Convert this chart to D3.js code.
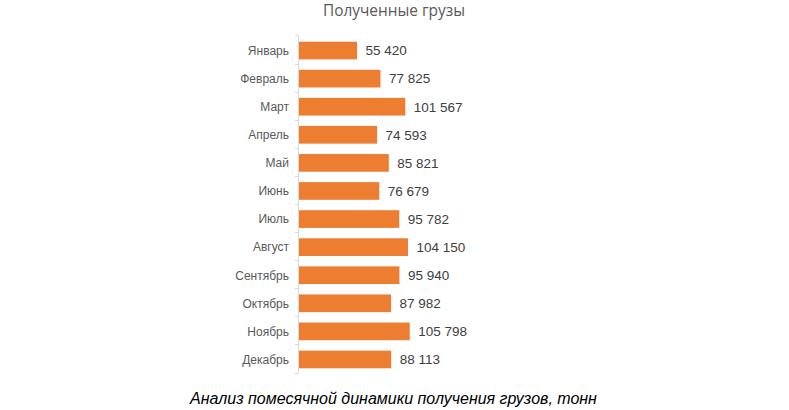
<!DOCTYPE html>
<html>
<head>
<meta charset="utf-8">
<script src="https://cdn.jsdelivr.net/npm/d3@7"></script>
<style>
  html, body { margin: 0; padding: 0; background: #fff; }
  svg { display: block; }
</style>
</head>
<body>
<svg id="chart" width="789" height="410"></svg>
<script>
const months = ["Январь","Февраль","Март","Апрель","Май","Июнь","Июль","Август","Сентябрь","Октябрь","Ноябрь","Декабрь"];
const values = [55420, 77825, 101567, 74593, 85821, 76679, 95782, 104150, 95940, 87982, 105798, 88113];
const title = "Полученные грузы";
const caption = "Анализ помесячной динамики получения грузов, тонн";

const svg = d3.select("#chart");
const x0 = 298.5;
const x = d3.scaleLinear().domain([0, 120000]).range([x0, x0 + 125.6]);
const y = d3.scaleBand().domain(months).range([35.5, 372.5]).paddingInner(0.37).paddingOuter(0.185);

const fmt = v => d3.format(",")(v).replace(/,/g, " ");

// title
svg.append("text")
  .attr("x", 394).attr("y", 16)
  .attr("text-anchor", "middle")
  .attr("font-family", "'Open Sans', sans-serif")
  .attr("font-size", 15.4)
  .attr("fill", "#595959")
  .text(title);

// bars
svg.append("g").selectAll("rect").data(months).join("rect")
  .attr("x", x(0) + 0.5)
  .attr("y", d => y(d) + 1)
  .attr("width", (d, i) => x(values[i]) - x(0))
  .attr("height", y.bandwidth())
  .attr("fill", "#ED7D31");

// value labels
svg.append("g").selectAll("text").data(months).join("text")
  .attr("x", (d, i) => x(values[i]) + 9)
  .attr("y", d => y(d) + 1 + y.bandwidth() / 2)
  .attr("dy", "0.36em")
  .attr("font-family", "'Liberation Sans', Arial, sans-serif")
  .attr("font-size", 13.5)
  .attr("fill", "#404040")
  .text((d, i) => fmt(values[i]));

// axis line and boundary ticks
const axisG = svg.append("g");
axisG.append("line")
  .attr("x1", x0).attr("x2", x0)
  .attr("y1", y.range()[0]).attr("y2", y.range()[1])
  .attr("stroke", "#d9d9d9").attr("stroke-width", 1);
const boundaries = months.map(m => y(m) - y.step() * y.paddingInner() / 2).concat([y.range()[1]]);
axisG.selectAll("line.tick").data(boundaries).join("line")
  .attr("class", "tick")
  .attr("x1", x0 - 3.5).attr("x2", x0)
  .attr("y1", d => Math.round(d) + 0.5).attr("y2", d => Math.round(d) + 0.5)
  .attr("stroke", "#d9d9d9").attr("stroke-width", 1);

// category labels
svg.append("g").selectAll("text").data(months).join("text")
  .attr("x", 289)
  .attr("y", d => y(d) + 1 + y.bandwidth() / 2)
  .attr("dy", "0.36em")
  .attr("text-anchor", "end")
  .attr("font-family", "'Liberation Sans', Arial, sans-serif")
  .attr("font-size", 12)
  .attr("fill", "#595959")
  .text(d => d);

// caption
svg.append("text")
  .attr("x", 393.5).attr("y", 403.5)
  .attr("text-anchor", "middle")
  .attr("font-family", "'Liberation Sans', Arial, sans-serif")
  .attr("font-style", "italic")
  .attr("font-size", 16)
  .attr("fill", "#000")
  .text(caption);
</script>
</body>
</html>
